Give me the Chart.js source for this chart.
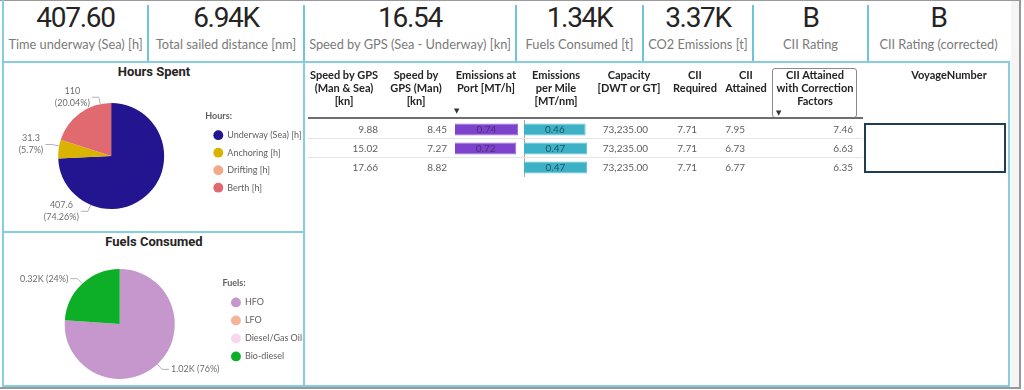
<!DOCTYPE html>
<html>
<head>
<meta charset="utf-8">
<script src="https://cdn.jsdelivr.net/npm/chart.js@4.4.1/dist/chart.umd.min.js"></script>
<style>
body{margin:0;width:1024px;height:390px;background:#fff;position:relative;overflow:hidden;font-family:Lato,"Noto Sans",sans-serif}
.ln{position:absolute;background:#86CDE1}
.gr{position:absolute;background:#999}
.kv{position:absolute;top:4px;font:28px/28px Roboto;letter-spacing:-1.3px;color:#252423;text-align:center}
.kl{position:absolute;top:36px;font:12.8px/16px Lato;color:#7a7a7a;text-align:center;white-space:nowrap}
.title{position:absolute;left:4px;width:300px;text-align:center;font:bold 13px Roboto;color:#252423}
.th{position:absolute;top:68px;font:bold 11px/13px Lato;color:#252423;text-align:center;white-space:pre;transform:translateX(-50%)}
.td{position:absolute;font:10px/19px Lato;color:#605E5C;text-align:right;white-space:nowrap}
.arrow{position:absolute;font:7px/7px "DejaVu Sans";color:#333}
canvas{position:absolute}
</style>
</head>
<body>
<canvas id="hours" width="309" height="148" style="left:5px;top:82px"></canvas>
<canvas id="fuels" width="309" height="124" style="left:5px;top:262px"></canvas>
<canvas id="barPort" width="64" height="57" style="left:454px;top:120px"></canvas>
<canvas id="barMile" width="64" height="57" style="left:523px;top:120px"></canvas>

<div class="title" style="top:64px">Hours Spent</div>
<div class="title" style="top:234px">Fuels Consumed</div>
<div id="kpis"></div>
<div id="table"></div>

<!-- frame and panel borders -->
<div class="gr" style="left:0;top:0;width:1021px;height:1px"></div>
<div class="gr" style="left:1019px;top:0;width:2px;height:389px"></div>
<div style="position:absolute;left:1011px;top:1px;width:8px;height:386px;background:#f5f5f5"></div>
<div class="gr" style="left:0;top:387px;width:1021px;height:2px"></div>
<div class="ln" style="left:2px;top:0;width:2px;height:387px"></div>
<div class="ln" style="left:2px;top:61px;width:1008px;height:2px"></div>
<div class="ln" style="left:303px;top:62px;width:2px;height:325px"></div>
<div class="ln" style="left:2px;top:231px;width:302px;height:2px"></div>
<div class="ln" style="left:1008px;top:62px;width:2px;height:325px"></div>
<div class="ln" style="left:2px;top:385px;width:1008px;height:2px"></div>

<script>
// KPI cards
const kpiValues = ['407.60', '6.94K', '16.54', '1.34K', '3.37K', 'B', 'B']
const kpiLabels = ['Time underway (Sea) [h]', 'Total sailed distance [nm]', 'Speed by GPS (Sea - Underway) [kn]',
  'Fuels Consumed [t]', 'CO2 Emissions [t]', 'CII Rating', 'CII Rating (corrected)']
const kpiEdges = [3, 148, 304, 516, 643, 753, 868, 1009]

// pies
const hoursLabels = ['Underway (Sea) [h]', 'Anchoring [h]', 'Drifting [h]', 'Berth [h]']
const hoursValues = [407.6, 31.3, 0, 110]
const hoursColors = ['#22158F', '#D9B300', '#F3A98B', '#E06A70']
const fuelLabels = ['HFO', 'LFO', 'Diesel/Gas Oil', 'Bio-diesel']
const fuelValues = [1020, 0, 0, 320]
const fuelColors = ['#C597CC', '#F5B49A', '#F8D6EE', '#0CAF26']

// table
const tableHeaders = ['Speed by GPS\n(Man & Sea)\n[kn]', 'Speed by\nGPS (Man)\n[kn]', 'Emissions at\nPort [MT/h]',
  'Emissions\nper Mile\n[MT/nm]', 'Capacity\n[DWT or GT]', 'CII\nRequired', 'CII\nAttained',
  'CII Attained\nwith Correction\nFactors', 'VoyageNumber']
const speedManSea = [9.88, 15.02, 17.66]
const speedMan = [8.45, 7.27, 8.82]
const emissionsPort = [0.74, 0.72, null]
const emissionsMile = [0.46, 0.47, 0.47]
const capacity = [73235, 73235, 73235]
const ciiRequired = [7.71, 7.71, 7.71]
const ciiAttained = [7.95, 6.73, 6.77]
const ciiCorrected = [7.46, 6.63, 6.35]

const headerCenters = [344, 416, 486, 556, 629, 695, 746, 815, 949]
const rowTop = 120, rowH = 19

// ---- KPIs
let kpiHtml = ''
kpiValues.forEach((v, i) => {
  const l = kpiEdges[i], w = kpiEdges[i + 1] - l
  kpiHtml += `<div class="kv" style="left:${l}px;width:${w}px">${v}</div>`
  kpiHtml += `<div class="kl" style="left:${l}px;width:${w}px">${kpiLabels[i]}</div>`
  if (i > 0) kpiHtml += `<div class="ln" style="left:${l - 1}px;top:5px;width:2px;height:57px;background:#6DC4DC"></div>`
})
document.getElementById('kpis').innerHTML = kpiHtml

// ---- table
let t = ''
tableHeaders.forEach((h, i) => {
  t += `<div class="th" style="left:${headerCenters[i]}px">${h.replace(/&/g, '&amp;')}</div>`
})
t += '<div class="arrow" style="left:454px;top:108px">▼</div>'
t += '<div style="position:absolute;left:772px;top:68px;width:83px;height:48px;border:1.5px solid #8a8a8a;border-radius:3px"></div>'
t += '<div class="arrow" style="left:776px;top:110px">▼</div>'
t += '<div style="position:absolute;left:308px;top:117px;width:555px;height:2px;background:#6e6e6e"></div>'
for (let r = 1; r < speedManSea.length; r++) {
  t += `<div style="position:absolute;left:308px;top:${rowTop + r * rowH - 1}px;width:555px;height:1px;background:#e4e4e4"></div>`
}
const f2 = v => v.toFixed(2)
const textCols = [
  [speedManSea, 378, f2], [speedMan, 447, f2],
  [capacity, 648, v => v.toLocaleString('en-US', {minimumFractionDigits: 2})],
  [ciiRequired, 697, f2], [ciiAttained, 745, f2], [ciiCorrected, 853, f2]
]
textCols.forEach(([vals, right, fmt]) => {
  vals.forEach((v, r) => {
    t += `<div class="td" style="right:${1024 - right}px;top:${rowTop + r * rowH}px">${fmt(v)}</div>`
  })
})
t += '<div style="position:absolute;left:864px;top:123px;width:138px;height:46px;border:2.5px solid #1E3D52"></div>'
document.getElementById('table').innerHTML = t

// ---- pie labels with leader lines
const leaderLabels = {
  id: 'leaderLabels',
  afterDatasetsDraw(chart, args, opts) {
    const ctx = chart.ctx
    const ds = chart.data.datasets[0]
    const total = ds.data.reduce((a, b) => a + b, 0)
    ctx.save()
    ctx.font = '9px Lato'
    ctx.fillStyle = '#6e6e6e'
    ctx.strokeStyle = '#b3b3b3'
    ctx.lineWidth = 1
    ctx.textBaseline = 'middle'
    chart.getDatasetMeta(0).data.forEach((arc, i) => {
      const v = ds.data[i]
      if (!v) return
      let a0 = arc.startAngle, a1 = arc.endAngle, a
      if (opts.side === 'left') {
        a0 = Math.max(a0, Math.PI / 2); a1 = Math.min(a1, Math.PI * 1.5)
        a = Math.PI + ((a0 + a1) / 2 - Math.PI) * opts.spread
        a = Math.min(Math.max(a, a0), a1)
      } else {
        a = (a0 + a1) / 2
      }
      const r = arc.outerRadius, c = Math.cos(a), s = Math.sin(a)
      const px = arc.x + c * r, py = arc.y + s * r
      const ex = arc.x + c * (r + 7), ey = arc.y + s * (r + 7)
      const dir = c < 0 ? -1 : 1
      const hx = ex + dir * 7
      ctx.beginPath(); ctx.moveTo(px, py); ctx.lineTo(ex, ey); ctx.lineTo(hx, ey); ctx.stroke()
      const lines = opts.format(v, total)
      const w = Math.max(...lines.map(l => ctx.measureText(l).width))
      const cx = dir < 0 ? hx - 2 - w / 2 : hx + 2 + w / 2
      ctx.textAlign = 'center'
      lines.forEach((l, k) => ctx.fillText(l, cx, ey + (k - (lines.length - 1) / 2) * 12))
    })
    ctx.restore()
  }
}

function pie(id, labels, values, colors, radius, legendTitle, itemPad, padding, labelOpts) {
  new Chart(document.getElementById(id), {
    type: 'pie',
    data: {labels: labels, datasets: [{data: values, backgroundColor: colors, borderWidth: 0, radius: radius}]},
    options: {
      responsive: false, animation: false, events: [],
      layout: {padding: padding},
      plugins: {
        legend: {
          position: 'right',
          title: {display: true, text: legendTitle, position: 'start', color: '#605E5C', padding: 0,
            font: {family: 'Lato', size: 9, weight: 'bold'}},
          labels: {usePointStyle: true, pointStyle: 'circle', boxHeight: 7, padding: itemPad,
            color: '#605E5C', font: {family: 'Lato', size: 9}}
        },
        tooltip: {enabled: false},
        leaderLabels: labelOpts
      }
    },
    plugins: [leaderLabels]
  })
}

const trim = n => String(parseFloat(n))
pie('hours', hoursLabels, hoursValues, hoursColors, 53, 'Hours:', 8.5, {left: 12, right: 2.5},
  {side: 'left', spread: 1.45, format: (v, tot) => [trim(v), '(' + trim((v / tot * 100).toFixed(2)) + '%)']})
pie('fuels', fuelLabels, fuelValues, fuelColors, 55, 'Fuels:', 9, {left: 12, right: 2},
  {side: 'auto', format: (v, tot) => [(v / 1000).toFixed(2) + 'K (' + Math.round(v / tot * 100) + '%)']})

// ---- data bars inside the table
const barText = {
  id: 'barText',
  afterDatasetsDraw(chart, args, opts) {
    const ctx = chart.ctx
    const ds = chart.data.datasets[0]
    ctx.save()
    ctx.font = '10px Lato'
    ctx.fillStyle = opts.color
    ctx.textAlign = 'center'
    ctx.textBaseline = 'middle'
    chart.getDatasetMeta(0).data.forEach((bar, i) => {
      if (ds.data[i] == null) return
      ctx.fillText(ds.data[i].toFixed(2), (bar.base + bar.x) / 2, bar.y + 0.5)
    })
    ctx.restore()
  }
}

function dataBar(id, values, fill, border, textColor, axis) {
  new Chart(document.getElementById(id), {
    type: 'bar',
    data: {labels: values.map((v, i) => i), datasets: [{data: values, backgroundColor: fill, borderColor: border,
      borderWidth: 1, barPercentage: 0.62, categoryPercentage: 1}]},
    options: {
      indexAxis: 'y', responsive: false, animation: false, events: [],
      layout: {padding: {left: 1}},
      plugins: {legend: {display: false}, tooltip: {enabled: false}, barText: {color: textColor}},
      scales: {
        x: {display: false, min: 0, max: Math.max(...values.filter(v => v != null))},
        y: {display: axis, ticks: {display: false}, grid: {display: false, drawTicks: false},
          border: {display: axis, color: '#a8a8a8', width: 1}}
      }
    },
    plugins: [barText]
  })
}

dataBar('barPort', emissionsPort, '#7E43CD', '#9A6CDA', '#4A2F78', false)
dataBar('barMile', emissionsMile, '#3DB1C6', '#66C3D3', '#1D5663', true)
</script>
</body>
</html>
